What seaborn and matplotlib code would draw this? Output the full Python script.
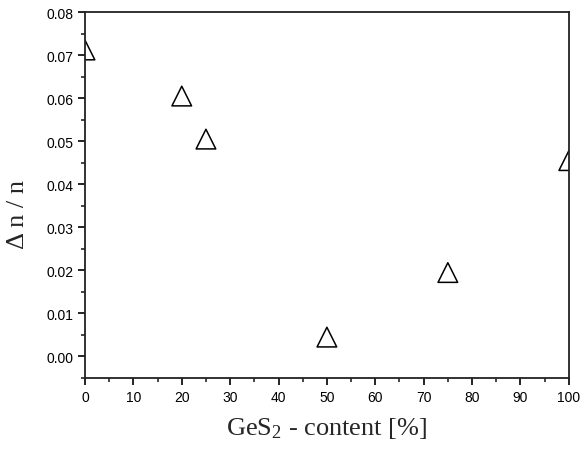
import matplotlib
matplotlib.use('Agg')
import matplotlib.pyplot as plt
from matplotlib.ticker import MultipleLocator, FormatStrFormatter
import seaborn as sns
import pandas as pd

# datos
ges2 = [0, 20, 25, 50, 75, 100]
dn_n = [0.0712, 0.0605, 0.0505, 0.0045, 0.0195, 0.0455]

df = pd.DataFrame({'GeS2': ges2, 'dn': dn_n})

sns.set_style('ticks')
plt.rcParams['font.family'] = ['Liberation Sans', 'DejaVu Sans']
plt.rcParams['mathtext.fontset'] = 'custom'
plt.rcParams['mathtext.rm'] = 'Liberation Serif'
plt.rcParams['mathtext.it'] = 'Liberation Serif:italic'

fig = plt.figure(figsize=(5.81, 4.52), dpi=100)
ax = fig.add_axes([0.1463, 0.1615, 0.979 - 0.1463, 0.971 - 0.1615])

sns.scatterplot(data=df, x='GeS2', y='dn', ax=ax, marker='^', s=200,
                facecolor='none', edgecolor='black', linewidth=1.1,
                legend=False)

ax.set_xlim(0, 100)
ax.set_ylim(-0.005, 0.08)
ax.xaxis.set_major_locator(MultipleLocator(10))
ax.xaxis.set_minor_locator(MultipleLocator(5))
ax.yaxis.set_major_locator(MultipleLocator(0.01))
ax.yaxis.set_minor_locator(MultipleLocator(0.005))
ax.yaxis.set_major_formatter(FormatStrFormatter('%.2f'))

ax.tick_params(which='major', direction='out', length=5, width=1.2, labelsize=10, colors='black')
ax.tick_params(which='minor', direction='out', length=3, width=1.2)
for s in ax.spines.values():
    s.set_linewidth(1.3)
    s.set_color('#222222')

ax.set_xlabel('GeS$_\\mathrm{2}$ - content [%]', family='Liberation Serif', fontsize=19, labelpad=8)
ax.set_ylabel('\u0394 n / n', family='Liberation Serif', fontsize=19)
ax.yaxis.set_label_coords(-0.115, 0.45)

fig.savefig('out.png', dpi=100)
